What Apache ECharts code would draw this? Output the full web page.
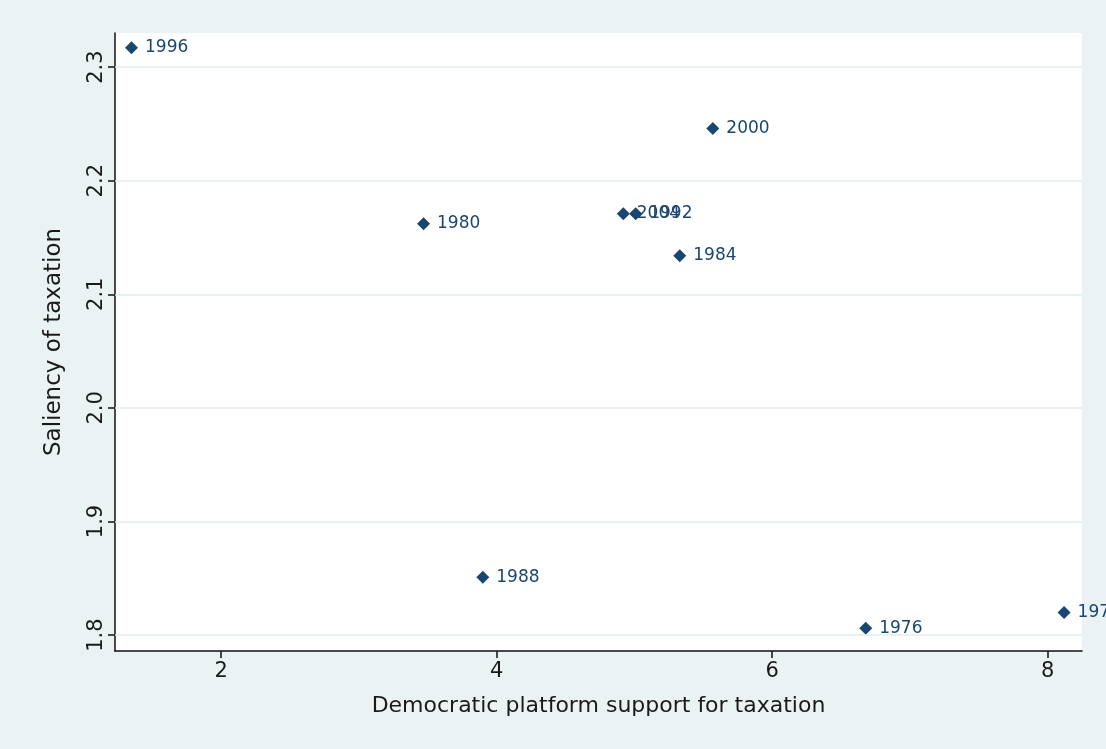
<!DOCTYPE html>
<html>
<head>
<meta charset="utf-8">
<script src="https://cdn.jsdelivr.net/npm/echarts@6/dist/echarts.min.js"></script>
<style>
html,body{margin:0;padding:0;background:#EAF2F3;}
#c{width:1106px;height:749px;}
</style>
</head>
<body>
<div id="c"></div>
<script>
const years = ['1996','2000','1980','2004','1992','1984','1988','1976','1972'];
const platformSupport = [1.35, 5.57, 3.47, 4.92, 5.01, 5.33, 3.90, 6.68, 8.12];
const saliency = [2.317, 2.246, 2.162, 2.171, 2.171, 2.134, 1.851, 1.806, 1.820];
const xTicks = [2, 4, 6, 8];
const yTicks = [1.8, 1.9, 2.0, 2.1, 2.2, 2.3];

const data = years.map((y, i) => ({ name: y, value: [platformSupport[i], saliency[i]] }));
const font = 'DejaVu Sans';
const chart = echarts.init(document.getElementById('c'));
chart.setOption({
  backgroundColor: '#EAF2F3',
  animation: false,
  grid: { left: 115, top: 33, right: 24, bottom: 98, show: true, backgroundColor: '#ffffff', borderWidth: 0 },
  xAxis: {
    type: 'value', min: 1.23, max: 8.25,
    name: 'Democratic platform support for taxation',
    nameLocation: 'middle', nameGap: 44,
    nameTextStyle: { fontFamily: font, fontSize: 22, color: '#1a1a1a' },
    axisLine: { show: true, onZero: false, lineStyle: { color: '#111', width: 1.5 } },
    axisTick: { show: true, customValues: xTicks, length: 7, lineStyle: { color: '#111', width: 1.5 } },
    axisLabel: { customValues: xTicks, fontFamily: font, fontSize: 21, color: '#1a1a1a', margin: 10 },
    splitLine: { show: false }
  },
  yAxis: {
    type: 'value', min: 1.786, max: 2.33,
    name: 'Saliency of taxation',
    nameLocation: 'middle', nameGap: 49,
    nameTextStyle: { fontFamily: font, fontSize: 23, color: '#1a1a1a' },
    axisLine: { show: true, onZero: false, lineStyle: { color: '#111', width: 1.5 } },
    axisTick: { show: true, customValues: yTicks, length: 7, lineStyle: { color: '#111', width: 1.5 } },
    axisLabel: { customValues: yTicks, rotate: 90, fontFamily: font, fontSize: 21, color: '#1a1a1a', margin: 8,
      formatter: v => v.toFixed(1) },
    splitLine: { show: false }
  },
  series: [{
    type: 'scatter',
    clip: false,
    symbol: 'diamond',
    symbolSize: [13, 13],
    itemStyle: { color: '#1A476F', opacity: 1 },
    label: { show: true, position: 'right', distance: 7, formatter: p => p.name,
      fontFamily: font, fontSize: 17, color: '#1A476F' },
    data: data,
    markLine: {
      silent: true, symbol: 'none', label: { show: false },
      lineStyle: { color: '#E3EDEF', width: 1.5, type: 'solid', opacity: 1 },
      data: yTicks.map(v => ({ yAxis: v }))
    },
    z: 3
  }]
});
</script>
</body>
</html>
